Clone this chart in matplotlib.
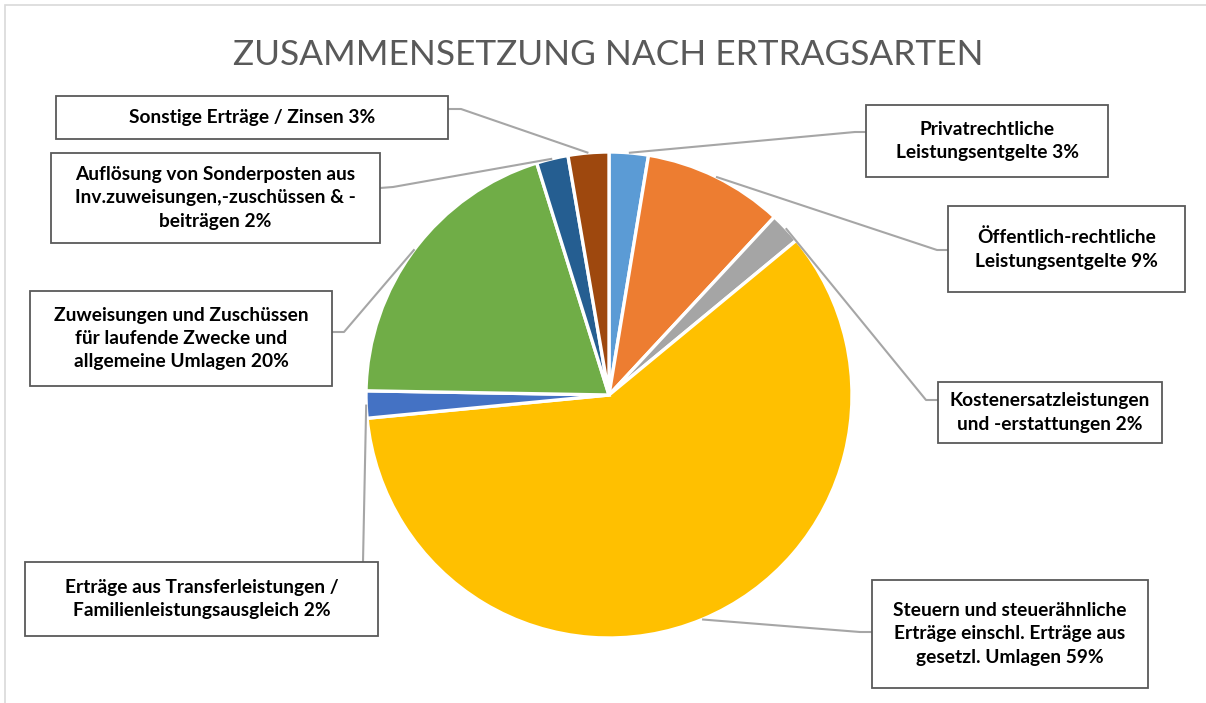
import matplotlib
matplotlib.use('Agg')
import matplotlib.pyplot as plt
from matplotlib.patches import Rectangle
import numpy as np

W, H = 1206, 703

# Data, clockwise from 12 o'clock
labels = [
    'Privatrechtliche\nLeistungsentgelte',
    'Öffentlich-rechtliche\nLeistungsentgelte',
    'Kostenersatzleistungen\nund -erstattungen',
    'Steuern und steuerähnliche\nErträge einschl. Erträge aus\ngesetzl. Umlagen',
    'Erträge aus Transferleistungen /\nFamilienleistungsausgleich',
    'Zuweisungen und Zuschüssen\nfür laufende Zwecke und\nallgemeine Umlagen',
    'Auflösung von Sonderposten aus\nInv.zuweisungen,-zuschüssen & -\nbeiträgen',
    'Sonstige Erträge / Zinsen',
]
values = [2.6, 9.3, 2.1, 59.4, 1.8, 19.9, 2.1, 2.7]
colors = ['#5B9BD5', '#ED7D31', '#A5A5A5', '#FFC000',
          '#4472C4', '#70AD47', '#255E91', '#9E480E']

# label boxes in pixel coords (x0, y0, x1, y1), where the leader line meets the box,
# and an optional knee point
box_px = [(866, 105, 1108, 177), (948, 206, 1185, 292), (938, 382, 1162, 443),
          (872, 580, 1148, 688), (25, 562, 378, 636), (30, 291, 332, 386),
          (51, 153, 380, 243), (56, 96, 448, 139)]
attach_px = [(866, 132), (948, 250), (938, 400), (872, 632),
             (363, 562), (332, 332), (380, 188), (448, 109)]
knee_px = [(855, 132), (937, 250), (926, 400), (860, 632),
           None, (344, 332), (393, 187), (461, 109)]

def Y(py):
    return H - py

fig = plt.figure(figsize=(W / 100, H / 100), dpi=100)
ax = fig.add_axes([0, 0, 1, 1])

cx, cy, r = 609, Y(395), 243
wedges, _ = ax.pie(values, colors=colors, startangle=90, counterclock=False,
                   center=(cx, cy), radius=r, frame=True,
                   wedgeprops=dict(edgecolor='white', linewidth=2.4))
ax.set_xlim(0, W)
ax.set_ylim(0, H)
ax.set_aspect('equal')
ax.axis('off')

# outer chart border (only top and left edges fall inside the picture)
fig.patches.append(Rectangle((5 / W, -0.1), 1.2, Y(5) / H + 0.1, transform=fig.transFigure,
                             fill=False, edgecolor='#D9D9D9', linewidth=1.2))

ax.text(608, Y(55), 'ZUSAMMENSETZUNG NACH ERTRAGSARTEN', ha='center', va='center',
        fontsize=25.4, color='#595959', family='Lato', fontweight='normal')

total = sum(values)
for w, lab, v, b, a, k in zip(wedges, labels, values, box_px, attach_px, knee_px):
    mid = np.deg2rad((w.theta1 + w.theta2) / 2)
    px, py = cx + r * np.cos(mid), cy + r * np.sin(mid)
    pts = [(px, py)]
    if k is not None:
        pts.append((k[0], Y(k[1])))
    pts.append((a[0], Y(a[1])))
    xs, ys = zip(*pts)
    ax.plot(xs, ys, color='#A6A6A6', lw=1.5, zorder=1, solid_capstyle='butt')

    x0, y0, x1, y1 = b
    ax.add_patch(Rectangle((x0, Y(y1)), x1 - x0, y1 - y0, facecolor='white',
                           edgecolor='#595959', lw=1.3, zorder=3))
    ax.text((x0 + x1) / 2, Y((y0 + y1) / 2), f'{lab} {round(v / total * 100)}%',
            ha='center', va='center', fontsize=13.8, family='Lato', fontweight='bold',
            color='black', linespacing=1.45, zorder=4)

fig.savefig('out.png', dpi=100, facecolor='white')
